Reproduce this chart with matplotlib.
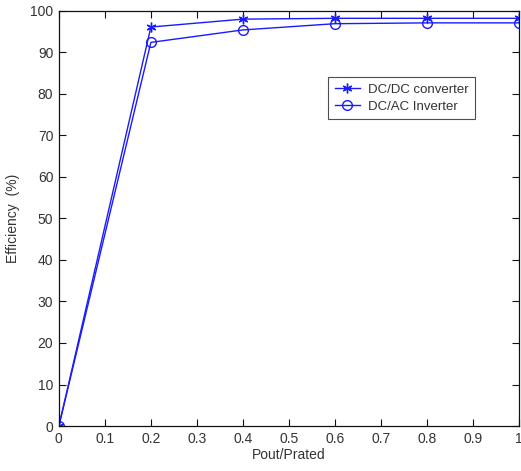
import matplotlib
matplotlib.use("Agg")
import matplotlib.pyplot as plt

plt.rcParams["font.family"] = ["Liberation Sans", "DejaVu Sans"]

LOAD = [0, 0.2, 0.4, 0.6, 0.8, 1.0]
DCDC_EFF = [0, 96.1, 98.0, 98.2, 98.2, 98.2]
DCAC_EFF = [0, 92.4, 95.4, 96.9, 97.1, 97.1]
X_TICKS = [0, 0.1, 0.2, 0.3, 0.4, 0.5, 0.6, 0.7, 0.8, 0.9, 1]
X_TICK_LABELS = ["0", "0.1", "0.2", "0.3", "0.4", "0.5", "0.6", "0.7", "0.8", "0.9", "1"]
Y_TICKS = list(range(0, 101, 10))

BLUE = "#1a1aff"
TEXT = "#333333"

fig = plt.figure(figsize=(5.21, 4.71), dpi=100)
ax = fig.add_axes([0.113, 0.0955, 0.883, 0.8815])

ax.plot(LOAD, DCDC_EFF, color=BLUE, linewidth=1.0, marker=(6, 2, 0),
        markersize=7, markeredgewidth=1.0, label="DC/DC converter")
ax.plot(LOAD, DCAC_EFF, color=BLUE, linewidth=1.0, marker="o", markersize=7,
        markerfacecolor="none", markeredgewidth=1.0, label="DC/AC Inverter")

ax.set_xlim(0, 1)
ax.set_ylim(0, 100)
ax.set_xticks(X_TICKS)
ax.set_xticklabels(X_TICK_LABELS)
ax.set_yticks(Y_TICKS)
ax.tick_params(direction="in", top=True, right=True, length=5, width=0.8,
               labelsize=10, labelcolor=TEXT, color="#111111", pad=4)
for spine in ax.spines.values():
    spine.set_linewidth(0.9)
    spine.set_color("#111111")

ax.set_xlabel("Pout/Prated", fontsize=10, color=TEXT, labelpad=2)
ax.set_ylabel("Efficiency  (%)", fontsize=10, color=TEXT, labelpad=7)

legend = ax.legend(loc="upper left", bbox_to_anchor=(0.585, 0.841), borderaxespad=0,
                   fontsize=9.5, frameon=True, fancybox=False, edgecolor="#222222",
                   handlelength=1.9, handletextpad=0.6, borderpad=0.5, labelspacing=0.35)
legend.get_frame().set_linewidth(0.8)
for text in legend.get_texts():
    text.set_color(TEXT)

fig.savefig("out.png", dpi=100, facecolor="white")
